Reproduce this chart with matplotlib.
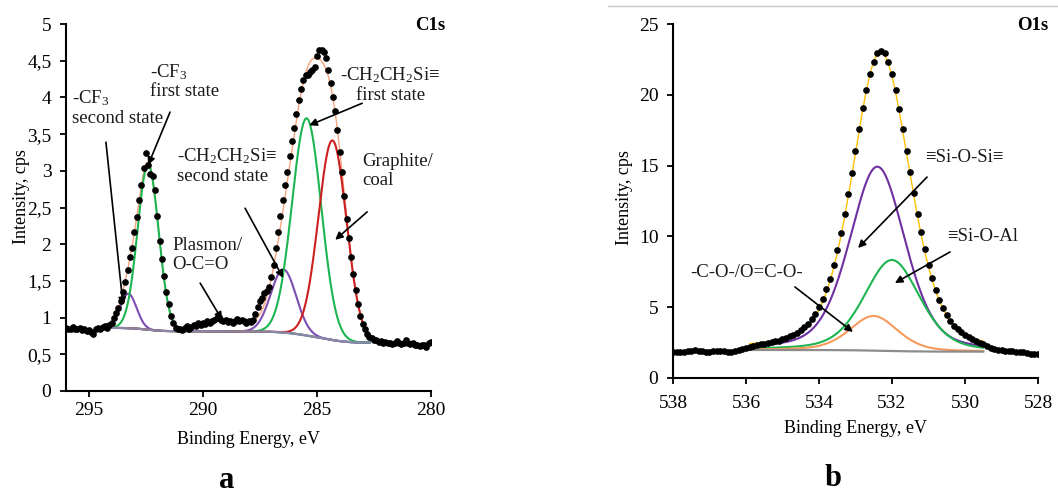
import numpy as np
import matplotlib
matplotlib.use('Agg')
import matplotlib.pyplot as plt
from matplotlib.ticker import FuncFormatter

plt.rcParams['font.family'] = ['Liberation Serif', 'DejaVu Serif']
plt.rcParams['mathtext.fontset'] = 'custom'
plt.rcParams['mathtext.rm'] = 'Liberation Serif'
plt.rcParams['mathtext.it'] = 'Liberation Serif:italic'
plt.rcParams['font.size'] = 13

# ---- C1s: measured counts, 0.1 eV steps from 296 eV down to 280 eV
c1s_counts = [
    0.86, 0.84, 0.85, 0.87, 0.85, 0.84, 0.86, 0.83, 0.84, 0.82,
    0.83, 0.80, 0.78, 0.84, 0.86, 0.85, 0.87, 0.88, 0.86, 0.90,
    0.93, 0.99, 1.06, 1.13, 1.22, 1.35, 1.48, 1.65, 1.82, 1.95,
    2.17, 2.37, 2.60, 2.80, 3.04, 3.24, 3.08, 2.96, 2.93, 2.74,
    2.38, 2.05, 1.80, 1.56, 1.35, 1.18, 1.02, 0.93, 0.86, 0.84,
    0.85, 0.83, 0.86, 0.88, 0.85, 0.87, 0.90, 0.89, 0.92, 0.90,
    0.93, 0.91, 0.95, 0.93, 0.96, 0.97, 1.00, 1.01, 0.97, 0.95,
    0.97, 0.94, 0.96, 0.93, 0.95, 0.98, 0.96, 0.97, 0.95, 0.93,
    0.96, 0.94, 0.97, 1.05, 1.15, 1.22, 1.27, 1.33, 1.36, 1.42,
    1.55, 1.72, 1.95, 2.17, 2.38, 2.60, 2.80, 2.98, 3.20, 3.40,
    3.58, 3.78, 3.96, 4.12, 4.24, 4.30, 4.31, 4.34, 4.37, 4.42,
    4.56, 4.64, 4.65, 4.62, 4.54, 4.38, 4.20, 4.00, 3.82, 3.55,
    3.26, 2.98, 2.66, 2.34, 2.08, 1.82, 1.60, 1.38, 1.18, 1.02,
    0.91, 0.84, 0.77, 0.74, 0.72, 0.70, 0.69, 0.67, 0.68, 0.66,
    0.67, 0.65, 0.66, 0.64, 0.66, 0.68, 0.65, 0.64, 0.66, 0.70,
    0.66, 0.64, 0.65, 0.62, 0.63, 0.61, 0.63, 0.62, 0.60, 0.65,
    0.67]
c1s_start = 296.0

# C1s fit: centre (eV), height above background (cps), FWHM (eV)
c1s_centres = [293.27, 292.40, 288.90, 286.47, 285.45, 284.32]
c1s_heights = [0.47, 2.25, 0.16, 0.86, 2.96, 2.72]
c1s_fwhm = [0.85, 1.08, 2.60, 1.30, 1.50, 1.45]
c1s_colors = ['#7d4db3', '#1db552', None, '#7d4db3', '#1db552', '#cc1f1f']
c1s_range = (294.5, 282.7)
c1s_bg = (0.86, 0.66)

# ---- O1s: measured counts, 0.1 eV steps from 538 eV down to 528 eV
o1s_counts = [
    1.84, 1.86, 1.82, 1.85, 1.88, 1.92, 1.95, 1.90, 1.88, 1.86,
    1.84, 1.88, 1.91, 1.93, 1.90, 1.87, 1.86, 1.89, 1.95, 2.02,
    2.12, 2.20, 2.28, 2.33, 2.38, 2.42, 2.47, 2.52, 2.58, 2.64,
    2.72, 2.82, 2.93, 3.05, 3.21, 3.36, 3.57, 3.83, 4.15, 4.52,
    5.00, 5.56, 6.25, 7.02, 8.01, 9.06, 10.24, 11.58, 12.97, 14.50,
    16.03, 17.55, 19.04, 20.37, 21.49, 22.35, 22.92, 23.10, 22.96, 22.32,
    21.45, 20.31, 19.03, 17.57, 16.05, 14.52, 13.06, 11.61, 10.30, 9.08,
    8.01, 7.05, 6.24, 5.52, 4.95, 4.45, 4.05, 3.70, 3.44, 3.22,
    3.03, 2.88, 2.74, 2.62, 2.50, 2.38, 2.26, 2.15, 2.07, 2.00,
    1.95, 1.92, 1.88, 1.90, 1.85, 1.81, 1.83, 1.77, 1.71, 1.69,
    1.67]
o1s_start = 538.0

# O1s fit (Gauss-Lorentz mix): Si-O-Si, Si-O-Al, C-O
o1s_centres = [532.40, 532.00, 532.50]
o1s_heights = [13.0, 6.43, 2.45]
o1s_fwhm = [1.80, 1.80, 1.55]
o1s_colors = ['#7030a0', '#1db552', '#f79a5c']
o1s_range = (535.9, 529.5)
o1s_bg = (1.98, 1.86)


def gl_peak(e, centre, height, fwhm, lor=0.0):
    u = ((e - centre) / fwhm) ** 2
    return height * ((1 - lor) * np.exp(-4 * np.log(2) * u) + lor / (1 + 4 * u))


def shirley(total, hi, lo):
    # energies run high -> low, so integrate from the low-energy end
    cum = np.cumsum(total[::-1])[::-1]
    return lo + (hi - lo) * cum / cum[0]


def draw_fit(ax, erange, centres, heights, fwhm, colors, bg_ends, lor,
             bg_color, env_color):
    e = np.linspace(erange[0], erange[1], 800)
    peaks = [gl_peak(e, c, h, w, lor) for c, h, w in zip(centres, heights, fwhm)]
    total = np.sum(peaks, axis=0)
    bg = shirley(total, *bg_ends)
    ax.plot(e, bg + total, color=env_color, lw=1.0, zorder=2)
    for p, col in zip(peaks, colors):
        if col is not None:
            ax.plot(e, bg + p, color=col, lw=1.5, zorder=3)
    # background on top so the flat ends of the peaks don't hide it
    ax.plot(e, bg, color=bg_color, lw=1.6, zorder=4)


def style_axes(ax, xpad):
    for side in ('top', 'right'):
        ax.spines[side].set_visible(False)
    for side in ('left', 'bottom'):
        ax.spines[side].set_linewidth(1.5)
    ax.tick_params(direction='out', width=1.3, length=4.5, labelsize=14)
    ax.tick_params(axis='y', pad=6)
    ax.tick_params(axis='x', pad=xpad)


fig = plt.figure(figsize=(10.58, 4.93), dpi=100)
ax1 = fig.add_axes([0.0624, 0.2069, 0.345, 0.7444])
ax2 = fig.add_axes([0.6361, 0.2333, 0.345, 0.7180])

# ---------------- panel a: C1s
e1 = c1s_start - 0.1 * np.arange(len(c1s_counts))
draw_fit(ax1, c1s_range, c1s_centres, c1s_heights, c1s_fwhm, c1s_colors,
         c1s_bg, 0.0, '#8d86a8', '#f5a47c')
ax1.plot(e1, c1s_counts, 'o', color='black', ms=3.8, zorder=5)
ax1.set_xlim(296, 280)
ax1.set_ylim(0, 5)
ax1.set_xticks([295, 290, 285, 280])
ax1.set_yticks(np.arange(0, 5.01, 0.5))
ax1.yaxis.set_major_formatter(
    FuncFormatter(lambda v, pos: ('%g' % v).replace('.', ',')))
style_axes(ax1, 3.5)
ax1.set_ylabel('Intensity, cps')
ax1.yaxis.set_label_coords(-0.10, 0.53)
ax1.set_xlabel('Binding Energy, eV')
ax1.xaxis.set_label_coords(0.5, -0.11)

c1s_labels = ['-CF$_3$\nsecond state', '-CF$_3$\nfirst state',
              '-CH$_2$CH$_2$Si\u2261\nsecond state',
              '-CH$_2$CH$_2$Si\u2261\nfirst state',
              'Graphite/\ncoal', 'Plasmon/\nO-C=O']
c1s_label_xy = [(295.74, 3.86), (292.32, 4.22), (291.13, 3.07),
                (281.79, 4.17), (283.02, 3.0), (291.35, 1.85)]
c1s_label_ha = ['left', 'left', 'left', 'center', 'left', 'left']
c1s_arrow_from = [(294.25, 3.39), (291.44, 3.80), (288.15, 2.49),
                  (283.02, 3.92), (282.80, 2.44), (290.12, 1.47)]
c1s_arrow_to = [(293.50, 1.17), (292.40, 3.08), (286.48, 1.54),
                (285.34, 3.62), (284.20, 2.06), (289.16, 0.97)]

# ---------------- panel b: O1s
e2 = o1s_start - 0.1 * np.arange(len(o1s_counts))
draw_fit(ax2, o1s_range, o1s_centres, o1s_heights, o1s_fwhm, o1s_colors,
         o1s_bg, 0.35, '#8c8c8c', '#ffc000')
ax2.plot(e2, o1s_counts, 'o', color='black', ms=3.8, zorder=5)
ax2.set_xlim(538, 528)
ax2.set_ylim(0, 25)
ax2.set_xticks(np.arange(538, 527, -2))
ax2.set_yticks(np.arange(0, 26, 5))
style_axes(ax2, 7.5)
ax2.set_ylabel('Intensity, cps')
ax2.yaxis.set_label_coords(-0.11, 0.51)
ax2.set_xlabel('Binding Energy, eV')
ax2.xaxis.set_label_coords(0.5, -0.12)

o1s_labels = ['\u2261Si-O-Si\u2261', '\u2261Si-O-Al', '-C-O-/O=C-O-']
o1s_label_xy = [(531.10, 15.54), (530.49, 9.96), (537.53, 7.42)]
o1s_label_ha = ['left', 'left', 'left']
o1s_arrow_from = [(531.04, 14.19), (530.41, 8.90), (534.66, 6.43)]
o1s_arrow_to = [(532.93, 9.18), (531.92, 6.71), (533.07, 3.25)]

arrow_style = dict(arrowstyle='-|>', color='black', lw=1.2,
                   mutation_scale=11, shrinkA=0, shrinkB=0)
for ax, labels, xy, has, a_from, a_to in (
        (ax1, c1s_labels, c1s_label_xy, c1s_label_ha, c1s_arrow_from, c1s_arrow_to),
        (ax2, o1s_labels, o1s_label_xy, o1s_label_ha, o1s_arrow_from, o1s_arrow_to)):
    for txt, (x, y), ha in zip(labels, xy, has):
        ax.text(x, y, txt, ha=ha, va='center', multialignment=ha,
                fontsize=13.5, color='#1a1a1a', linespacing=1.12, zorder=6)
    for s, t in zip(a_from, a_to):
        ax.annotate('', xy=t, xytext=s, arrowprops=arrow_style, zorder=6)

# panel titles and letters
fig.text(0.4206, 0.949, 'C1s', ha='right', va='center', fontsize=13.5,
         fontweight='bold')
fig.text(0.9905, 0.949, 'O1s', ha='right', va='center', fontsize=13.5,
         fontweight='bold')
fig.text(227 / 1058, 1 - 480 / 493, 'a', ha='center', va='center',
         fontsize=22, fontweight='bold')
fig.text(833 / 1058, 1 - 478 / 493, 'b', ha='center', va='center',
         fontsize=22, fontweight='bold')
fig.add_artist(plt.Line2D([608 / 1058, 1.0], [1 - 6 / 493, 1 - 6 / 493],
                          color='#c8c8c8', lw=1.0))

fig.savefig('out.png', dpi=100)
